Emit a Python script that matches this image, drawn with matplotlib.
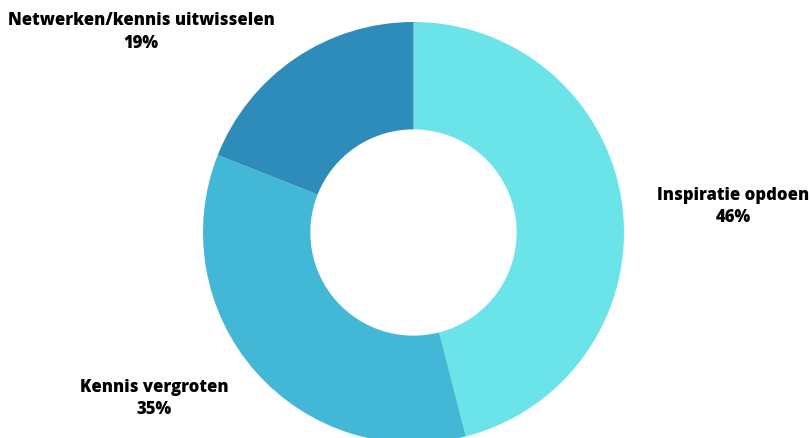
import matplotlib.pyplot as plt

labels = ["Inspiratie opdoen", "Kennis vergroten", "Netwerken/kennis uitwisselen"]
values = [46, 35, 19]
colors = ["#6ae4e9", "#43b8d6", "#2e8cba"]

# label anchor (x center, first-line baseline) in pixels from top
label_pos = [(733, 200), (154, 392), (141, 25)]

W, H = 812, 439
fig = plt.figure(figsize=(W / 100, H / 100), dpi=100)
ax = fig.add_axes([0, 0, 1, 1])
ax.set_xlim(0, W)
ax.set_ylim(0, H)
ax.set_aspect("equal")
ax.axis("off")

R = 210.5
ax.pie(values, colors=colors, startangle=90, counterclock=False,
       center=(413.5, H - 233.5), radius=R,
       wedgeprops=dict(width=R * 0.51, linewidth=0))
ax.set_xlim(0, W)
ax.set_ylim(0, H)

font = dict(family=["Open Sans", "DejaVu Sans"], fontsize=12, fontweight=800,
            color="black", ha="center", va="baseline")
for lab, val, (x, y) in zip(labels, values, label_pos):
    ax.text(x, H - y, lab, **font)
    ax.text(x, H - y - 22.5, f"{val}%", **font)

fig.savefig("out.png", dpi=100)
